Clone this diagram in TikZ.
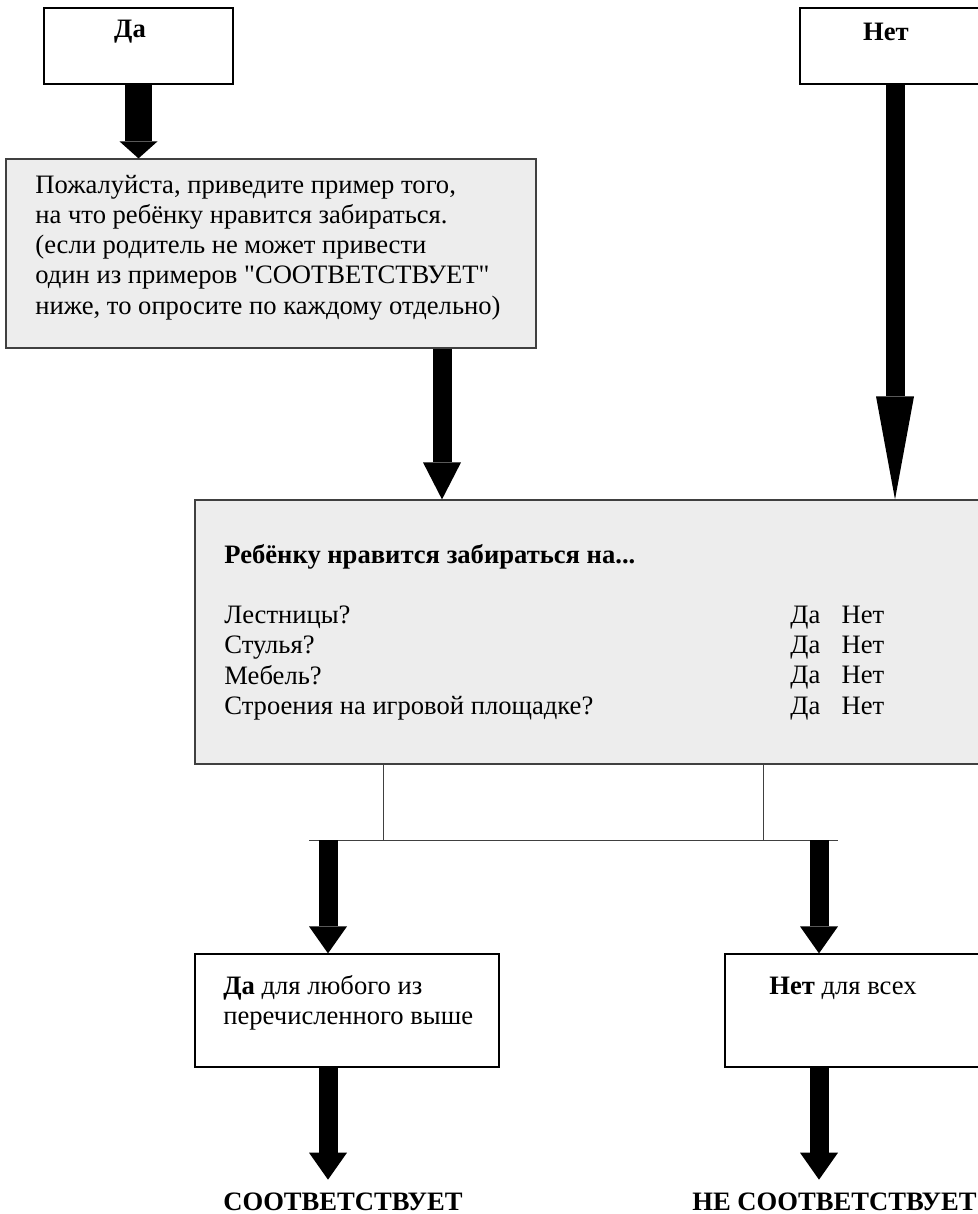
\documentclass[tikz,border=0pt]{standalone}
\usepackage{fontspec}
\setmainfont{Liberation Serif}
\usetikzlibrary{arrows.meta}
\definecolor{boxgray}{HTML}{EDEDED}
\definecolor{linegray}{HTML}{404040}
\tikzset{
	block/.style={draw, line width=0.6pt, inner sep=0pt},
	shaded/.style={block, draw=linegray, fill=boxgray},
	txt/.style={align=left, inner sep=0pt, font=\fontsize{13.3}{15.1}\selectfont},
	link/.style={draw=linegray, line width=0.5pt},
	blockarrow/.style={line width=9.5pt, -{Triangle[width=19pt, length=#1, line width=0pt]}},
	blockarrow/.default=13.5pt
}
\begin{document}
\begin{tikzpicture}[x=0.5pt, y=-0.5pt]
	\useasboundingbox (0,0) rectangle (978,1214);

	\node[block, minimum width=94.5pt, minimum height=38pt] (yes) at (138.5,46) {};
	\node[txt] at (130,32) {\textbf{Да}};

	\node[block, minimum width=95pt, minimum height=38pt] (no) at (895,46) {};
	\node[txt] at (886,32) {\textbf{Нет}};

	\node[shaded, minimum width=265pt, minimum height=94.5pt] (ask) at (271,253.5) {};
	\node[txt, anchor=west] at (35,247.5) {Пожалуйста, приведите пример того,\\ на что ребёнку нравится забираться.\\ (если родитель не может привести\\ один из примеров \textquotedbl СООТВЕТСТВУЕТ\textquotedbl\\ ниже, то опросите по каждому отдельно)};

	\node[shaded, minimum width=397.5pt, minimum height=132pt] (climb) at (592.5,632) {};
	\node[txt, anchor=west] at (224,557) {\textbf{Ребёнку нравится забираться на...}};
	\node[txt, anchor=west] at (224,663) {Лестницы?\\ Стулья?\\ Мебель?\\ Строения на игровой площадке?};
	\node[txt, anchor=west] at (790,663) {Да\hspace{0.8em}Нет\\ Да\hspace{0.8em}Нет\\ Да\hspace{0.8em}Нет\\ Да\hspace{0.8em}Нет};

	\node[block, minimum width=152pt, minimum height=56.5pt] (anyyes) at (347,1010.5) {};
	\node[txt, anchor=west] at (223,1002.5) {\textbf{Да} для любого из\\ перечисленного выше};

	\node[block, minimum width=132.5pt, minimum height=56.5pt] (allno) at (857.5,1010.5) {};
	\node[txt, anchor=west] at (769,988) {\textbf{Нет} для всех};

	\node[txt, anchor=west, inner ysep=6.5pt] (fits) at (223,1202) {\textbf{СООТВЕТСТВУЕТ}};
	\node[txt, anchor=west, inner ysep=6.5pt] (notfits) at (692,1202) {\textbf{НЕ СООТВЕТСТВУЕТ}};

	\coordinate (askout) at (442,0);
	\coordinate (jl) at (383,840);
	\coordinate (jr) at (763,840);
	\coordinate (bl) at (309,840);
	\coordinate (br) at (838,840);
	\coordinate (al) at (328,840);
	\coordinate (ar) at (819,840);

	\draw[blockarrow=8.5pt, line width=13.5pt] (yes.south) -- (yes.south |- ask.north);
	\draw[blockarrow=18.5pt] (ask.south -| askout) -- (climb.north -| askout);
	\draw[blockarrow=51.5pt] (no.south) -- (no.south |- climb.north);

	\draw[link] (climb.south -| jl) -- (jl);
	\draw[link] (climb.south -| jr) -- (jr);
	\draw[link] (bl) -- (br);

	\draw[blockarrow] (al) -- (al |- anyyes.north);
	\draw[blockarrow] (ar) -- (ar |- allno.north);
	\draw[blockarrow] (anyyes.south -| al) -- (fits.north -| al);
	\draw[blockarrow] (allno.south -| ar) -- (notfits.north -| ar);
\end{tikzpicture}
\end{document}
